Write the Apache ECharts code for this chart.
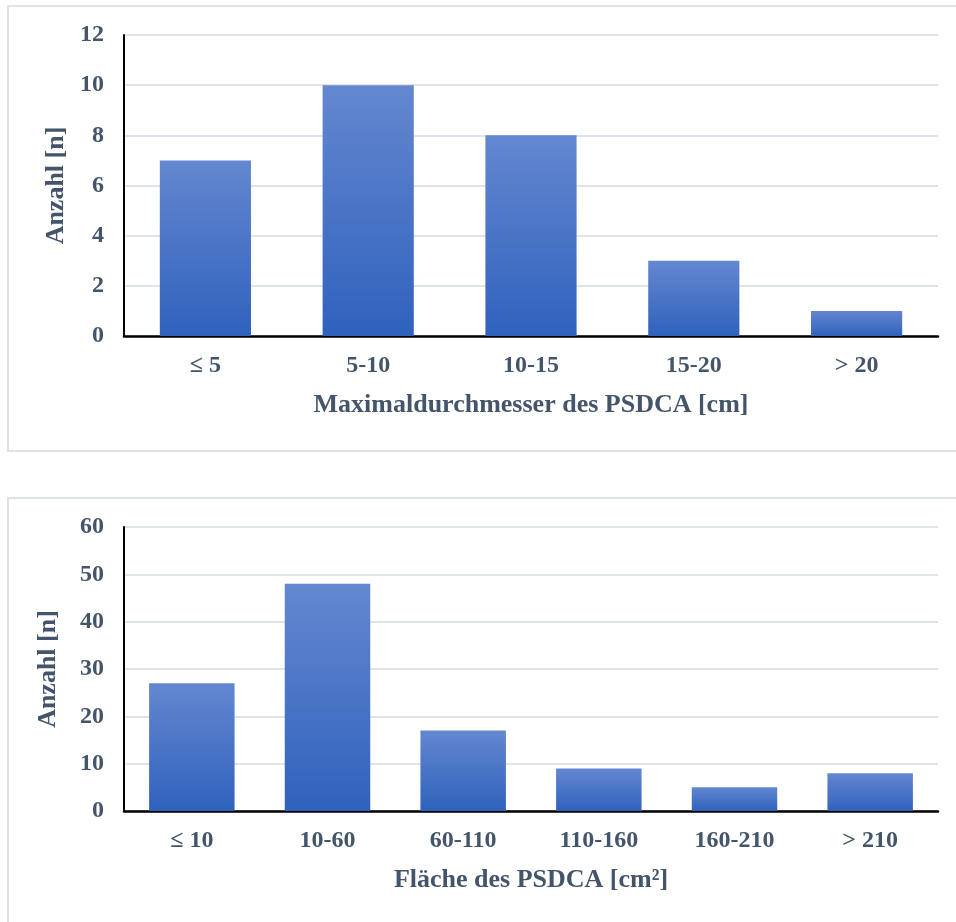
<!DOCTYPE html>
<html>
<head>
<meta charset="utf-8">
<script src="https://cdn.jsdelivr.net/npm/echarts@6/dist/echarts.min.js"></script>
<style>
html,body{margin:0;padding:0;background:#fff;}
#chart{width:956px;height:922px;}
</style>
</head>
<body>
<div id="chart"></div>
<script>
const categoriesTop = ['≤ 5', '5-10', '10-15', '15-20', '> 20'];
const valuesTop = [7, 10, 8, 3, 1];
const ticksTop = { min: 0, max: 12, interval: 2 };

const categoriesBottom = ['≤ 10', '10-60', '60-110', '110-160', '160-210', '> 210'];
const valuesBottom = [27, 48, 17, 9, 5, 8];
const ticksBottom = { min: 0, max: 60, interval: 10 };

const textColor = '#44546a';
const fontFamily = '"Liberation Serif", "Times New Roman", serif';
const barGradient = () => new echarts.graphic.LinearGradient(0, 0, 0, 1, [
  { offset: 0, color: '#6487d0' },
  { offset: 1, color: '#2f62bd' }
]);

const chart = echarts.init(document.getElementById('chart'));

function xAxisCfg(cats, name, gridIndex, nameGap) {
  return {
    type: 'category', gridIndex: gridIndex, data: cats,
    name: name, nameLocation: 'middle', nameGap: nameGap,
    nameTextStyle: { color: textColor, fontFamily: fontFamily, fontWeight: 'bold', fontSize: 26 },
    axisLine: { show: true, lineStyle: { color: '#000', width: 2.5 } },
    axisTick: { show: false },
    axisLabel: { color: textColor, fontFamily: fontFamily, fontWeight: 'bold', fontSize: 24, margin: 18 }
  };
}
function yAxisCfg(t, gridIndex, nameGap) {
  return {
    type: 'value', gridIndex: gridIndex, min: t.min, max: t.max, interval: t.interval,
    name: 'Anzahl [n]', nameLocation: 'middle', nameGap: nameGap,
    nameTextStyle: { color: textColor, fontFamily: fontFamily, fontWeight: 'bold', fontSize: 26 },
    axisLine: { show: true, lineStyle: { color: '#000', width: 2 } },
    axisTick: { show: false },
    splitLine: { show: true, lineStyle: { color: '#dfe4ea', width: 2 } },
    axisLabel: { color: textColor, fontFamily: fontFamily, fontWeight: 'bold', fontSize: 24, margin: 20 }
  };
}

chart.setOption({
  animation: false,
  backgroundColor: '#fff',
  graphic: [
    { type: 'rect', shape: { x: 8, y: 6, width: 960, height: 445 }, style: { fill: 'none', stroke: '#dde3ea', lineWidth: 2 }, z: -1 },
    { type: 'rect', shape: { x: 8, y: 498, width: 960, height: 440 }, style: { fill: 'none', stroke: '#dde3ea', lineWidth: 2 }, z: -1 }
  ],
  grid: [
    { left: 124, top: 35, width: 814, height: 301 },
    { left: 124, top: 527, width: 814, height: 284 }
  ],
  xAxis: [
    xAxisCfg(categoriesTop, 'Maximaldurchmesser des PSDCA [cm]', 0, 56),
    xAxisCfg(categoriesBottom, 'Fläche des PSDCA [cm²]', 1, 56)
  ],
  yAxis: [ yAxisCfg(ticksTop, 0, 54), yAxisCfg(ticksBottom, 1, 63) ],
  series: [
    { type: 'bar', xAxisIndex: 0, yAxisIndex: 0, data: valuesTop, barCategoryGap: '44%', itemStyle: { color: barGradient() } },
    { type: 'bar', xAxisIndex: 1, yAxisIndex: 1, data: valuesBottom, barCategoryGap: '37%', itemStyle: { color: barGradient() } }
  ]
});
</script>
</body>
</html>
